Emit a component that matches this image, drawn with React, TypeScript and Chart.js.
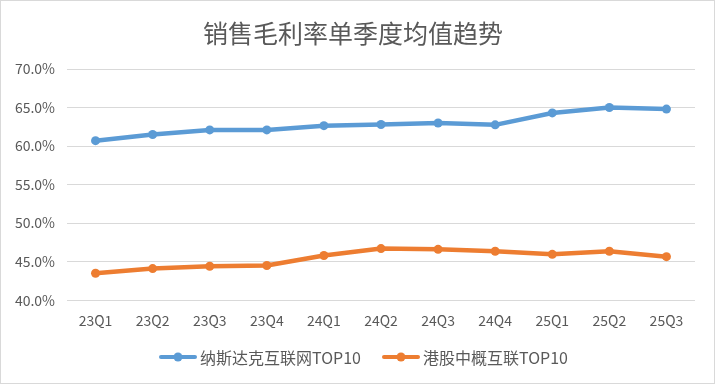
import React, { useEffect, useRef } from "react";
import { Chart, registerables } from "chart.js";

Chart.register(...registerables);

const title = "销售毛利率单季度均值趋势";
const categories = ["23Q1", "23Q2", "23Q3", "23Q4", "24Q1", "24Q2", "24Q3", "24Q4", "25Q1", "25Q2", "25Q3"];
const seriesNames = ["纳斯达克互联网TOP10", "港股中概互联TOP10"];
const nasdaqTop10 = [60.7, 61.5, 62.1, 62.1, 62.65, 62.8, 63.0, 62.75, 64.3, 65.0, 64.8];
const hkTop10 = [43.5, 44.1, 44.4, 44.5, 45.8, 46.7, 46.6, 46.35, 45.95, 46.35, 45.65];
const yMin = 40;
const yMax = 70;
const yStep = 5;

const BLUE = "#5B9BD5";
const ORANGE = "#ED7D31";
const seriesColors = [BLUE, ORANGE];
const TEXT = "#595959";
const GRID = "#D9D9D9";
const FONT = '"Noto Sans CJK SC", "Noto Sans", sans-serif';

function LegendMarker({ color }: { color: string }) {
  return (
    <svg width={38} height={12} style={{ display: "block" }}>
      <line x1={2} y1={6} x2={36} y2={6} stroke={color} strokeWidth={4} strokeLinecap="round" />
      <circle cx={19} cy={6} r={4.5} fill={color} />
    </svg>
  );
}

export default function App() {
  const ref = useRef<HTMLCanvasElement | null>(null);

  useEffect(() => {
    document.body.style.margin = "0";
    const mkDs = (label: string, data: number[], color: string) => ({
      label,
      data,
      borderColor: color,
      backgroundColor: color,
      pointBackgroundColor: color,
      pointBorderColor: color,
      borderWidth: 4.5,
      pointRadius: 4.5,
      pointBorderWidth: 0,
      borderCapStyle: "round",
      borderJoinStyle: "round",
      tension: 0,
    });
    const chart = new Chart(ref.current!, {
      type: "line",
      data: {
        labels: categories,
        datasets: [mkDs(seriesNames[0], nasdaqTop10, BLUE), mkDs(seriesNames[1], hkTop10, ORANGE)] as any,
      },
      options: {
        animation: false,
        responsive: true,
        maintainAspectRatio: false,
        layout: { padding: { left: 10, right: 19, top: 0, bottom: 42 } },
        plugins: {
          title: {
            display: true,
            text: title,
            color: TEXT,
            font: { family: FONT, size: 25, weight: "normal" },
            padding: { top: 17, bottom: 21 },
          },
          legend: { display: false },
          tooltip: { enabled: false },
        },
        scales: {
          x: {
            offset: true,
            grid: { display: false, drawTicks: false, offset: true },
            border: { display: false },
            ticks: { color: TEXT, font: { family: FONT, size: 14 }, padding: 12, maxRotation: 0 },
          },
          y: {
            min: yMin,
            max: yMax,
            grid: { color: GRID, lineWidth: 1, drawTicks: false },
            border: { display: false },
            afterFit: (s: any) => {
              s.width = 56;
            },
            ticks: {
              stepSize: yStep,
              color: TEXT,
              font: { family: FONT, size: 14 },
              padding: 12,
              callback: (v: any) => Number(v).toFixed(1) + "%",
            },
          },
        },
      },
    });
    return () => chart.destroy();
  }, []);

  const legendLefts = [158, 381];

  return (
    <div
      style={{
        width: 715,
        height: 384,
        boxSizing: "border-box",
        border: "1px solid #D9D9D9",
        background: "#fff",
        position: "relative",
        fontFamily: FONT,
      }}
    >
      <canvas ref={ref} />
      {seriesNames.map((name, i) => (
        <div
          key={name}
          style={{
            position: "absolute",
            left: legendLefts[i],
            top: 344,
            height: 24,
            display: "flex",
            alignItems: "center",
            gap: 3,
            color: TEXT,
            fontSize: 16,
            lineHeight: "24px",
            whiteSpace: "nowrap",
          }}
        >
          <LegendMarker color={seriesColors[i]} />
          <span>{name}</span>
        </div>
      ))}
    </div>
  );
}
